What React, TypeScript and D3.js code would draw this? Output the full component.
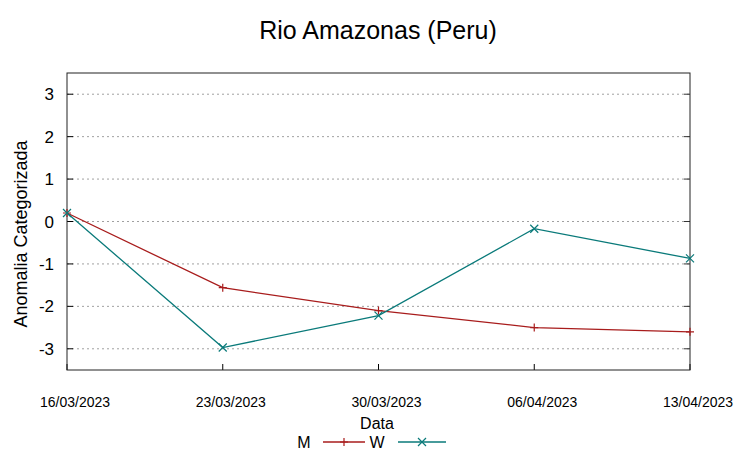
import React from "react";
import * as d3 from "d3";

const dates = ["16/03/2023", "23/03/2023", "30/03/2023", "06/04/2023", "13/04/2023"];
const seriesM = [0.2, -1.56, -2.1, -2.5, -2.6];
const seriesW = [0.2, -2.97, -2.22, -0.17, -0.87];
const yTicks = [3, 2, 1, 0, -1, -2, -3];

const W = 753, H = 459;
const left = 67, right = 690, top = 73, bottom = 370;
const font = "'Liberation Sans', Arial, sans-serif";

export default function App() {
  const x = d3.scalePoint<string>().domain(dates).range([left, right]);
  const y = d3.scaleLinear().domain([-3.5, 3.5]).range([bottom, top]);
  const line = d3
    .line<number>()
    .x((_, i) => x(dates[i]) as number)
    .y((d) => y(d));
  const cM = "#a81c1c";
  const cW = "#0a7a7a";
  const plus = (cx: number, cy: number, c: string, k: string) => (
    <path key={k} d={`M${cx - 4},${cy}H${cx + 4}M${cx},${cy - 4}V${cy + 4}`} stroke={c} strokeWidth={1.2} />
  );
  const cross = (cx: number, cy: number, c: string, k: string) => (
    <path key={k} d={`M${cx - 4},${cy - 4}L${cx + 4},${cy + 4}M${cx - 4},${cy + 4}L${cx + 4},${cy - 4}`} stroke={c} strokeWidth={1.2} />
  );
  return (
    <svg width={W} height={H} style={{ position: "absolute", left: 0, top: 0, background: "#fff" }} fontFamily={font}>
      <text x={378} y={39} textAnchor="middle" fontSize={25}>Rio Amazonas (Peru)</text>
      {yTicks.map((t) => (
        <g key={t}>
          <line x1={left} x2={right} y1={y(t)} y2={y(t)} stroke="#a0a0a0" strokeDasharray="2,3" strokeWidth={1} />
          <line x1={left} x2={left + 6} y1={y(t)} y2={y(t)} stroke="#000" />
          <line x1={right - 6} x2={right} y1={y(t)} y2={y(t)} stroke="#333" />
          <text x={54} y={y(t) + 6} textAnchor="end" fontSize={17}>{t}</text>
        </g>
      ))}
      {dates.map((d) => (
        <g key={d}>
          <line x1={x(d)} x2={x(d)} y1={bottom} y2={bottom - 6} stroke="#000" />
          <text x={(x(d) as number) + 8} y={407} textAnchor="middle" fontSize={14} textLength={70} lengthAdjust="spacingAndGlyphs">{d}</text>
        </g>
      ))}
      <rect x={left} y={top} width={right - left} height={bottom - top} fill="none" stroke="#222" strokeWidth={1} />
      <path d={line(seriesM) || ""} fill="none" stroke={cM} strokeWidth={1.3} />
      <path d={line(seriesW) || ""} fill="none" stroke={cW} strokeWidth={1.3} />
      {seriesM.map((v, i) => plus(x(dates[i]) as number, y(v), cM, "m" + i))}
      {seriesW.map((v, i) => cross(x(dates[i]) as number, y(v), cW, "w" + i))}
      <text x={377} y={429} textAnchor="middle" fontSize={16}>Data</text>
      <text x={27} y={234} textAnchor="middle" fontSize={18} transform="rotate(-90,27,234)">Anomalia Categorizada</text>
      <text x={304} y={448} textAnchor="middle" fontSize={16}>M</text>
      <line x1={323} x2={365} y1={442} y2={442} stroke={cM} strokeWidth={1.3} />
      {plus(344, 442, cM, "lm")}
      <text x={377} y={448} textAnchor="middle" fontSize={16}>W</text>
      <line x1={398} x2={446} y1={442} y2={442} stroke={cW} strokeWidth={1.3} />
      {cross(422, 442, cW, "lw")}
    </svg>
  );
}
